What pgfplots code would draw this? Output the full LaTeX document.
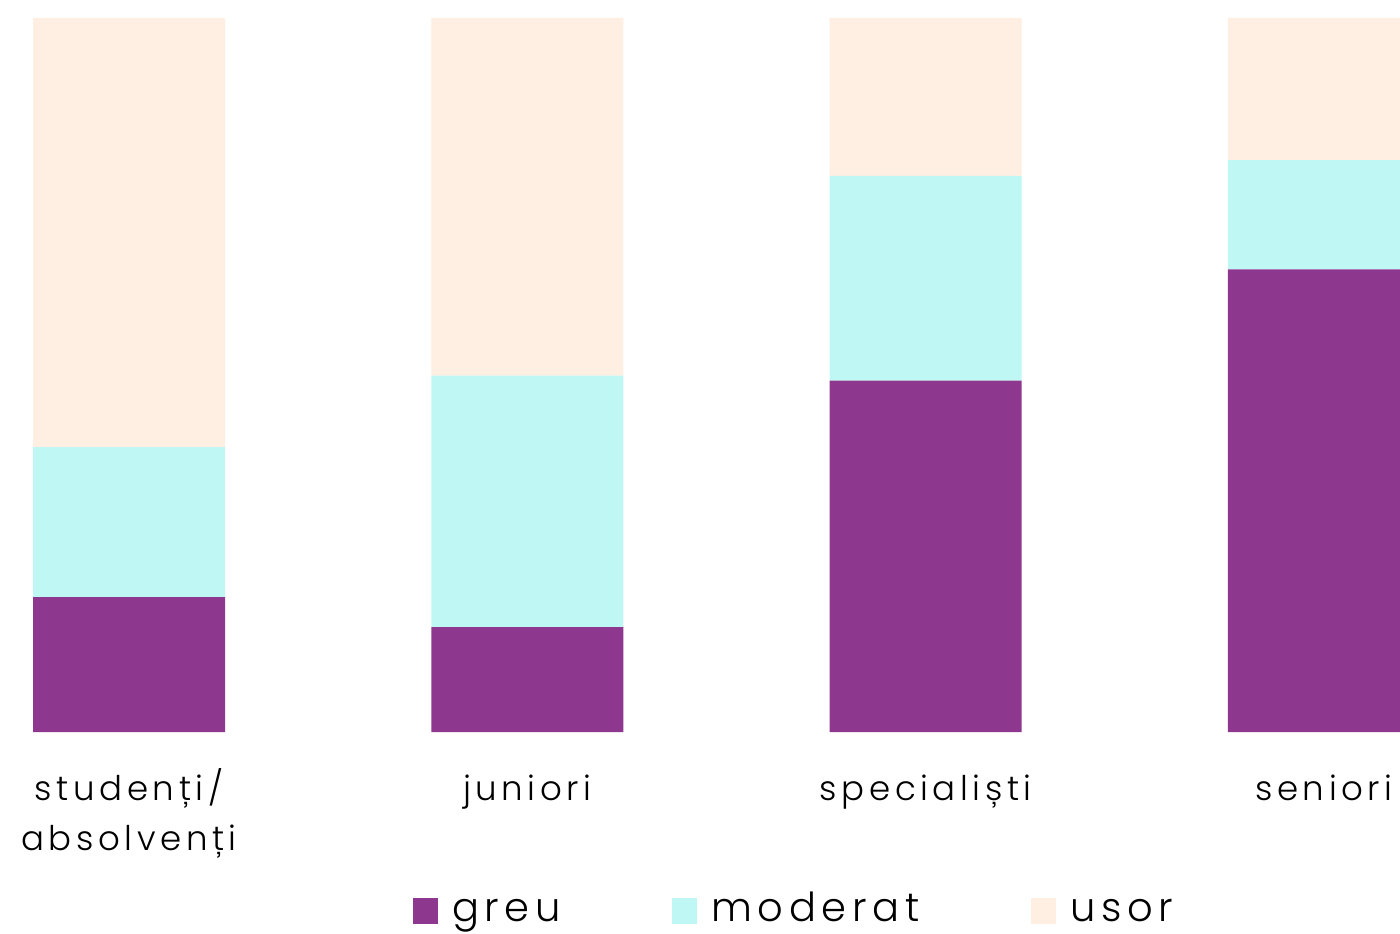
\documentclass[border=0pt]{standalone}
\usepackage{fontspec}
\setmainfont{Poppins Light}
\newfontfamily\tickfont{Poppins Light}[LetterSpace=13.5]
\newfontfamily\legfont{Poppins Light}[LetterSpace=14]
\usepackage{pgfplots}
\pgfplotsset{compat=1.18}
\definecolor{cgreu}{RGB}{142,55,142}
\definecolor{cmod}{RGB}{190,247,244}
\definecolor{cusor}{RGB}{255,238,226}
\begin{document}
\begin{tikzpicture}
\useasboundingbox (0,0) rectangle (700pt,466.5pt);
\begin{axis}[
  at={(0pt,100.5pt)}, anchor=south west,
  scale only axis, width=700pt, height=357pt,
  xmin=-0.324, xmax=3.191, ymin=0, ymax=100,
  ybar stacked, bar width=96pt,
  axis line style={draw=none},
  ytick=\empty,
  xtick={0,1,2,3},
  xticklabels={{\begin{tabular}[t]{@{}c@{}}studenți/\\absolvenți\end{tabular}},{juniori},{specialiști},{seniori}},
  major tick length=0pt,
  xticklabel style={anchor=base, inner sep=0pt, yshift=-34pt, font=\tickfont\fontsize{17}{25}\selectfont},
  legend columns=3,
  legend style={at={(rel axis cs:0.295,-0.2507)}, anchor=west, draw=none, fill=none,
    inner sep=0pt, outer sep=0pt, font=\legfont\fontsize{20}{22}\selectfont,
    nodes={inner sep=0pt, text height=15pt, text depth=5pt},
    /tikz/every even column/.append style={column sep=56pt},
    /tikz/every odd column/.append style={column sep=7pt}},
  legend image code/.code={\fill[#1] (0pt,-6.5pt) rectangle (12.5pt,6.5pt);},
]
\addplot[fill=cgreu, draw=none] coordinates {(0,18.9) (1,14.7) (2,49.2) (3,64.8)};
\addplot[fill=cmod, draw=none] coordinates {(0,21.0) (1,35.2) (2,28.7) (3,15.3)};
\addplot[fill=cusor, draw=none] coordinates {(0,60.1) (1,50.1) (2,22.1) (3,19.9)};
\legend{greu,moderat,usor}
\end{axis}
\end{tikzpicture}
\end{document}
